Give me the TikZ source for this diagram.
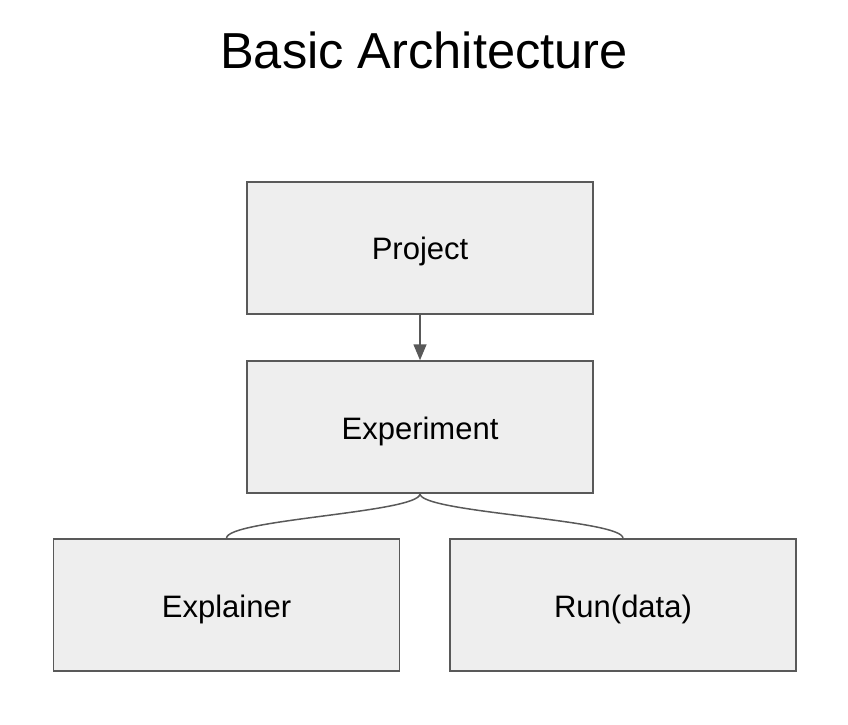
\documentclass[tikz,border=0pt]{standalone}
\usepackage{fontspec}
\setmainfont{Liberation Sans}
\usetikzlibrary{arrows.meta}
\definecolor{boxfill}{RGB}{238,238,238}
\definecolor{boxline}{RGB}{89,89,89}
\tikzset{%
  archbox/.style = {shape=rectangle, draw=boxline, fill=boxfill,%
                    line width=1.5pt, minimum width=346pt, minimum height=132pt,%
                    text height=24pt, text depth=0pt,%
                    align=center, font=\fontsize{31}{37}\selectfont},%
  title/.style   = {font=\fontsize{50.6}{60}\selectfont},%
  link/.style    = {draw=boxline, line width=1.5pt}%
}
\begin{document}
\begin{tikzpicture}[x=1pt,y=1pt]
		\useasboundingbox (0,0) rectangle (848,724);
		\node [title] (head) at (424,674) {Basic Architecture};
		\node [archbox] (project) at (420,476) {Project};
		\node [archbox] (experiment) at (420,297) {Experiment};
		\node [archbox] (explainer) at (226.5,119) {Explainer};
		\node [archbox] (run) at (623,119) {Run(data)};
		\draw [link,-{Triangle[width=13pt,length=16pt]}] (project.south) -- (experiment.north);
		\draw [link] (experiment.south) .. controls +(0,-19) and +(0,19) .. (explainer.north);
		\draw [link] (experiment.south) .. controls +(0,-19) and +(0,19) .. (run.north);
	\end{tikzpicture}
\end{document}
